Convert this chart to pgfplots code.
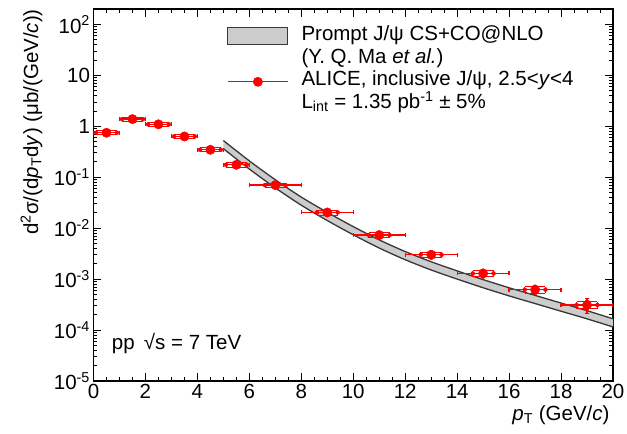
\documentclass[border=0pt]{standalone}
\usepackage{pgfplots}
\pgfplotsset{compat=1.18}
\usepackage{pgfplotstable}
\usepgfplotslibrary{fillbetween}
\usepackage{fontspec}
\setmainfont{Liberation Sans}

\definecolor{bandfill}{gray}{0.80}
\definecolor{bandedge}{gray}{0.22}
\definecolor{rootred}{RGB}{255,0,0}
\newcommand\rootfont{\fontsize{20.5}{24}\selectfont}

% ALICE inclusive J/psi, 2.5<y<4: pT, d2sigma/dpTdy, half bin width, stat. error, rel. syst.
\pgfplotstableread{
pt    val      bin  stat     sys
0.5   0.745    0.5  0.02     0.09
1.5   1.38     0.5  0.03     0.09
2.5   1.09     0.5  0.02     0.09
3.5   0.63     0.5  0.015    0.09
4.5   0.345    0.5  0.008    0.09
5.5   0.175    0.5  0.005    0.10
7     0.070    1    0.002    0.10
9     0.0203   1    0.0008   0.11
11    0.0073   1    0.0004   0.12
13    0.0030   1    0.0002   0.12
15    0.00129  1    0.00009  0.13
17    0.00062  1    0.00007  0.14
19    0.00031  1    0.00010  0.16
}\alice

% Prompt J/psi CS+CO NLO (Ma et al.): pT, lower edge, upper edge
\pgfplotstableread{
pt  lo        hi
5   0.3631    0.5248
6   0.1445    0.2089
7   0.0617    0.0891
8   0.0282    0.0407
9   0.0141    0.0204
10  0.00741   0.01072
11  0.00407   0.00589
12  0.00240   0.00347
13  0.00151   0.00219
14  0.00100   0.00145
15  0.000676  0.000977
16  0.000468  0.000676
17  0.000331  0.000479
18  0.000234  0.000339
19  0.000166  0.000240
20  0.000115  0.000166
}\nlo

\pgfplotsset{
  redbars/.style={color=rootred, only marks, mark=none, forget plot,
    error bars/error bar style={color=rootred, line width=#1},
    error bars/error mark=none},
}

\begin{document}
\begin{tikzpicture}
\begin{axis}[
  scale only axis, width=519.5pt, height=372pt,
  xmin=0, xmax=20, ymode=log, ymin=1e-5, ymax=200,
  xtick={0,2,...,20}, minor x tick num=3,
  ytick={1e-5,1e-4,1e-3,1e-2,1e-1,1,10,100},
  yticklabels={10\textsuperscript{-5},10\textsuperscript{-4},10\textsuperscript{-3},10\textsuperscript{-2},10\textsuperscript{-1},1,10,10\textsuperscript{2}},
  /pgf/number format/assume math mode=true,
  tick label style={font=\rootfont},
  major tick length=8pt, minor tick length=4pt,
  every tick/.append style={black, line width=0.8pt},
  axis line style={line width=1.1pt},
  xlabel={\textit{p}\textsubscript{T} (GeV/\textit{c})},
  ylabel={d\textsuperscript{2}σ/(d\textit{p}\textsubscript{T}d\textit{y}) (μb/(GeV/\textit{c}))},
  label style={font=\rootfont},
  x label style={at={(rel axis cs:1,0)}, anchor=base east, yshift=-39pt},
  y label style={at={(axis description cs:-0.1193,1)}, anchor=east, inner sep=0pt},
  legend cell align=left,
  legend style={at={(axis description cs:0.257,0.958)}, anchor=north west,
    draw=none, fill=none, font=\rootfont, inner sep=0pt, row sep=0pt, column sep=13pt,
    nodes={inner xsep=0pt, inner ysep=0pt, text height=15.5pt, text depth=7.3pt}},
]
% theory band
\addplot[name path=up, draw=none, smooth, forget plot] table[x=pt, y=hi]{\nlo};
\addplot[name path=dn, draw=none, smooth, forget plot] table[x=pt, y=lo]{\nlo};
\addplot[bandfill, forget plot] fill between[of=up and dn];
\addplot[bandedge, line width=1.3pt, smooth, forget plot] table[x=pt, y=hi]{\nlo};
\addplot[bandedge, line width=1.3pt, smooth, forget plot] table[x=pt, y=lo]{\nlo};

% systematic boxes: top, bottom, left and right sides
\addplot[redbars=0.9pt, error bars/.cd, x dir=both, x fixed=0.4]
  table[x=pt, y expr=\thisrow{val}*(1+\thisrow{sys})]{\alice};
\addplot[redbars=0.9pt, error bars/.cd, x dir=both, x fixed=0.4]
  table[x=pt, y expr=\thisrow{val}*(1-\thisrow{sys})]{\alice};
\addplot[redbars=0.9pt, error bars/.cd, y dir=both, y explicit]
  table[x expr=\thisrow{pt}-0.4, y=val, y error expr=\thisrow{val}*\thisrow{sys}]{\alice};
\addplot[redbars=0.9pt, error bars/.cd, y dir=both, y explicit]
  table[x expr=\thisrow{pt}+0.4, y=val, y error expr=\thisrow{val}*\thisrow{sys}]{\alice};

% bin widths and statistical errors
\addplot[redbars=1.3pt, error bars/.cd, x dir=both, x explicit, y dir=both, y explicit,
  error mark=-, error mark options={color=rootred, line width=1.3pt, mark size=2pt, rotate=90}]
  table[x=pt, y=val, x error=bin, y error=stat]{\alice};

% data points
\addplot[color=rootred, only marks, mark=*, mark size=4.7pt, mark options={color=rootred}, forget plot]
  table[x=pt, y=val]{\alice};

\addlegendimage{legend image code/.code={\draw[fill=bandfill, draw=bandedge, line width=1pt] (0pt,-8.3pt) rectangle (60pt,8.3pt);}}
\addlegendentry{Prompt J/ψ CS+CO@NLO}
\addlegendimage{empty legend}
\addlegendentry{(Y. Q. Ma \textit{et al.})}
\addlegendimage{legend image code/.code={%
  \draw[color=rootred, line width=1.3pt] (0pt,0pt) -- (60pt,0pt);
  \draw[color=rootred, mark=*, mark size=4.7pt, mark options={color=rootred}, only marks] plot coordinates {(30pt,0pt)};}}
\addlegendentry{ALICE, inclusive J/ψ, 2.5<\textit{y}<4}
\addlegendimage{empty legend}
\addlegendentry{L\textsubscript{int} = 1.35 pb\textsuperscript{-1} ± 5\%}

\node[font=\rootfont, anchor=base west, inner sep=0pt] at (axis cs:0.7,4.2e-5) {pp\hspace{0.45em}√s = 7 TeV};

\coordinate (bl) at (rel axis cs:0,0);
\coordinate (tr) at (rel axis cs:1,1);
\end{axis}
\pgfresetboundingbox
\path[use as bounding box] ([xshift=-93.5pt, yshift=-53pt]bl) rectangle ([xshift=14pt, yshift=9pt]tr);
\end{tikzpicture}
\end{document}
